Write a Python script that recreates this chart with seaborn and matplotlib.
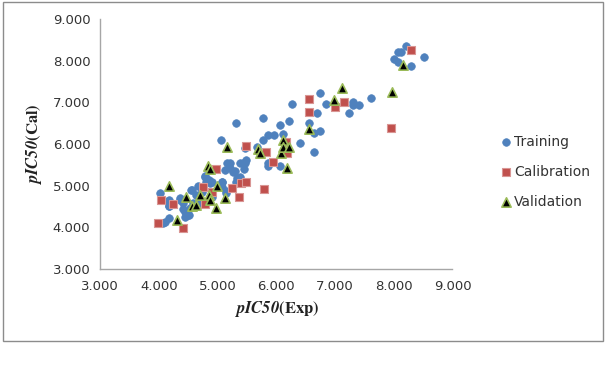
import matplotlib
matplotlib.use("Agg")
import matplotlib.pyplot as plt
from matplotlib.patches import Rectangle
from matplotlib.ticker import FormatStrFormatter
import seaborn as sns
import pandas as pd

train_exp = [4.02, 4.08, 4.17, 4.17, 4.17, 4.16, 4.18, 4.11, 4.36, 4.37, 4.42, 4.42, 4.44, 4.45,
             4.50, 4.52, 4.53, 4.55, 4.56, 4.59, 4.64, 4.67, 4.70, 4.73, 4.73, 4.78, 4.79, 4.81,
             4.85, 4.87, 4.90, 4.91, 5.06, 5.07, 5.07, 5.08, 5.13, 5.15, 5.15, 5.16, 5.21, 5.22,
             5.27, 5.29, 5.31, 5.32, 5.33, 5.35, 5.38, 5.38, 5.44, 5.45, 5.46, 5.46, 5.49, 5.67,
             5.77, 5.77, 5.86, 5.86, 5.86, 5.96, 6.06, 6.06, 6.11, 6.21, 6.26, 6.40, 6.55, 6.64,
             6.64, 6.70, 6.74, 6.74, 6.85, 7.24, 7.31, 7.31, 7.40, 7.62, 8.00, 8.07, 8.08, 8.13,
             8.21, 8.30, 8.51]
train_cal = [4.83, 4.11, 4.66, 4.22, 4.51, 4.64, 4.51, 4.12, 4.70, 4.66, 4.43, 4.58, 4.26, 4.38,
             4.30, 4.30, 4.46, 4.90, 4.90, 4.58, 4.78, 5.00, 4.58, 4.86, 4.90, 5.23, 5.22, 5.10,
             5.14, 5.07, 4.74, 5.10, 6.10, 5.10, 4.98, 5.10, 5.38, 4.88, 4.82, 5.54, 5.42, 5.54,
             5.34, 5.36, 6.50, 5.10, 5.18, 5.06, 5.20, 5.54, 5.54, 5.40, 5.54, 5.90, 5.62, 5.94,
             6.63, 6.10, 5.47, 5.54, 6.22, 6.22, 6.46, 5.47, 6.24, 6.56, 6.96, 6.03, 6.50, 5.82,
             6.27, 6.74, 7.22, 6.32, 6.96, 6.74, 7.02, 6.94, 6.94, 7.11, 8.03, 7.98, 8.20, 8.20,
             8.35, 7.87, 8.10]

calib_exp = [3.98, 4.03, 4.24, 4.41, 4.76, 4.79, 4.90, 4.98, 5.24, 5.36, 5.40, 5.49, 5.49, 5.80,
             5.83, 5.95, 6.17, 6.19, 6.55, 6.55, 7.00, 7.15, 7.95, 8.30]
calib_cal = [4.11, 4.66, 4.56, 3.98, 4.96, 4.56, 4.86, 5.40, 4.95, 4.74, 5.06, 5.10, 5.96, 4.92,
             5.80, 5.58, 6.06, 5.79, 7.09, 6.78, 6.88, 7.01, 6.38, 8.26]

valid_exp = [4.17, 4.31, 4.47, 4.56, 4.64, 4.70, 4.83, 4.88, 4.85, 4.88, 4.98, 5.00, 5.12, 5.17,
             5.69, 5.72, 6.08, 6.11, 6.12, 6.21, 6.19, 6.55, 6.99, 7.12, 7.97, 8.16]
valid_cal = [5.00, 4.18, 4.74, 4.51, 4.54, 4.78, 5.47, 5.40, 4.78, 4.66, 4.46, 4.99, 4.71, 5.94,
             5.88, 5.78, 5.78, 6.10, 5.94, 5.94, 5.42, 6.35, 7.06, 7.34, 7.24, 7.90]

ticks = [3, 4, 5, 6, 7, 8, 9]

df = pd.concat([
    pd.DataFrame({"exp": train_exp, "cal": train_cal, "set": "Training"}),
    pd.DataFrame({"exp": calib_exp, "cal": calib_cal, "set": "Calibration"}),
    pd.DataFrame({"exp": valid_exp, "cal": valid_cal, "set": "Validation"}),
])

sns.set_theme(style="white")
plt.rcParams["font.family"] = ["DejaVu Sans"]
plt.rcParams["mathtext.fontset"] = "stix"

fig = plt.figure(figsize=(6.05, 3.79), dpi=100)
ax = fig.add_axes([100 / 605, 1 - 269 / 379, 352.5 / 605, 250 / 379])

styles = {
    "Training": dict(marker="o", color="#4F81BD", edgecolor="#4F81BD", s=30, linewidth=0.5),
    "Calibration": dict(marker="s", color="#C0504D", edgecolor="#D99694", s=30, linewidth=0.8),
    "Validation": dict(marker="^", color="#000000", edgecolor="#9BBB59", s=45, linewidth=1.2),
}
for name, st in styles.items():
    sub = df[df["set"] == name]
    sns.scatterplot(data=sub, x="exp", y="cal", ax=ax, label=name, zorder=3, **st)

ax.set_xlim(3, 9)
ax.set_ylim(3, 9)
ax.set_xticks(ticks)
ax.set_yticks(ticks)
ax.xaxis.set_major_formatter(FormatStrFormatter("%.3f"))
ax.yaxis.set_major_formatter(FormatStrFormatter("%.3f"))
for s in ["top", "right"]:
    ax.spines[s].set_visible(False)
for s in ["left", "bottom"]:
    ax.spines[s].set_color("#A6A6A6")
    ax.spines[s].set_linewidth(1.0)
ax.tick_params(axis="both", direction="out", length=4, width=1, color="#A6A6A6",
               labelsize=9.5, labelcolor="#333333", pad=4)
ax.tick_params(axis="y", pad=3)

ax.set_xlabel(r"$\mathbfit{pIC50}\mathbf{(Exp)}$", fontsize=12, color="#222222", labelpad=4)
ax.set_ylabel(r"$\mathbfit{pIC50}\mathbf{(Cal)}$", fontsize=12, color="#222222", labelpad=6)

leg = ax.legend(loc="center left", bbox_to_anchor=(1.115, 0.388), frameon=False, fontsize=10,
                handletextpad=0.1, labelspacing=1.15, markerscale=1.0, handlelength=1.0,
                borderaxespad=0)
for t in leg.get_texts():
    t.set_color("#333333")

fig.add_artist(Rectangle((3 / 605, 1 - 341 / 379), 600 / 605, 339 / 379,
                         transform=fig.transFigure, fill=False, edgecolor="#8C8C8C", lw=1))

fig.savefig("out.png", dpi=100, facecolor="white")
